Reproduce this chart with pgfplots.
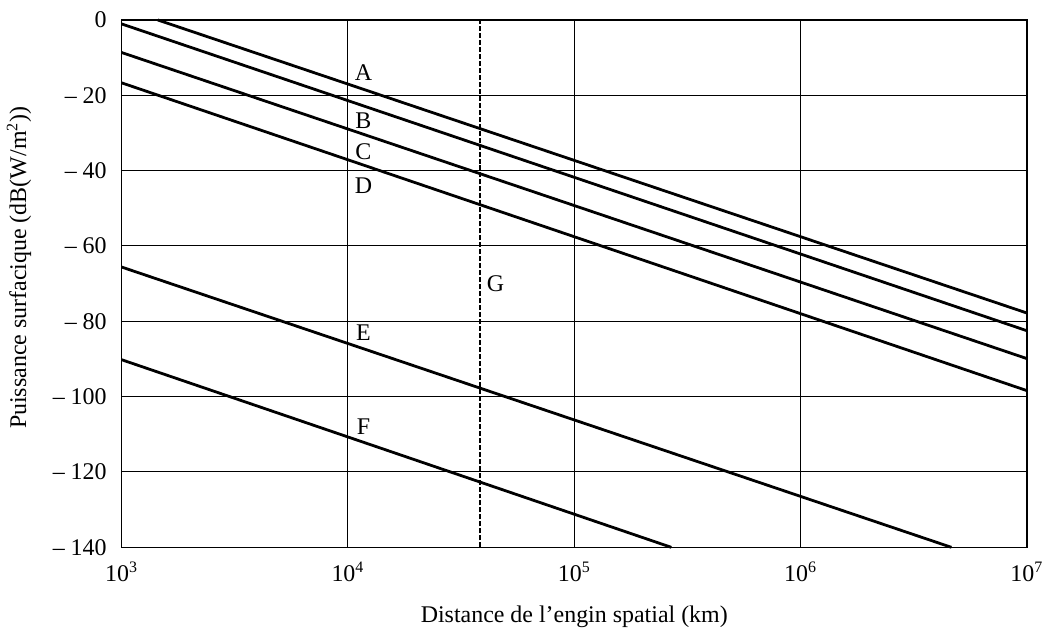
\documentclass[border=0pt]{standalone}
\usepackage{fontspec}
\setmainfont{Liberation Serif}
\usepackage{pgfplots}
\pgfplotsset{compat=1.18}
\begin{document}
\begin{tikzpicture}
\begin{axis}[
  scale only axis,
  width=454pt, height=264.5pt,
  xmode=log,
  xmin=1e3, xmax=1e7,
  ymin=-140, ymax=0,
  xtick={1e3,1e4,1e5,1e6,1e7},
  xticklabels={10\textsuperscript{3},10\textsuperscript{4},10\textsuperscript{5},10\textsuperscript{6},10\textsuperscript{7}},
  ytick={-140,-120,-100,-80,-60,-40,-20,0},
  yticklabels={– 140,– 120,– 100,– 80,– 60,– 40,– 20,0},
  minor tick num=0,
  log ticks with fixed point=false,
  xminorticks=false,
  major tick length=0pt,
  grid=major,
  major grid style={black, line width=0.5pt},
  axis line style={black, line width=0.8pt},
  tick label style={font=\fontsize{12}{14}\selectfont},
  xticklabel style={yshift=-4pt},
  yticklabel style={xshift=-4pt},
  label style={font=\fontsize{12}{14}\selectfont},
  xlabel={Distance de l’engin spatial (km)},
  ylabel={Puissance surfacique (dB(W/m\textsuperscript{2}))},
  xlabel style={yshift=-5pt},
  ylabel style={yshift=4pt, xshift=8pt},
  clip=false,
]
\path (rel axis cs:-0.1344,-0.1493) rectangle (rel axis cs:1.022,1.0378);
\addplot[black, line width=1.4pt] coordinates {(1443,0) (1e7,-77.8)};
\addplot[black, line width=1.4pt] coordinates {(1e3,-1.06) (1e7,-82.5)};
\addplot[black, line width=1.4pt] coordinates {(1e3,-8.65) (1e7,-89.9)};
\addplot[black, line width=1.4pt] coordinates {(1e3,-16.7) (1e7,-98.4)};
\addplot[black, line width=1.4pt] coordinates {(1e3,-65.6) (4.64e6,-140)};
\addplot[black, line width=1.4pt] coordinates {(1e3,-90.2) (2.684e5,-140)};
\addplot[black, line width=1pt, dash pattern=on 2.5pt off 1pt] coordinates {(38450,-140) (38450,0)};
\node[font=\fontsize{12}{14}\selectfont] at (axis cs:1.17e4,-14) {A};
\node[font=\fontsize{12}{14}\selectfont] at (axis cs:1.17e4,-26.7) {B};
\node[font=\fontsize{12}{14}\selectfont] at (axis cs:1.17e4,-34.9) {C};
\node[font=\fontsize{12}{14}\selectfont] at (axis cs:1.17e4,-43.9) {D};
\node[font=\fontsize{12}{14}\selectfont] at (axis cs:1.17e4,-83.1) {E};
\node[font=\fontsize{12}{14}\selectfont] at (axis cs:1.17e4,-108) {F};
\node[font=\fontsize{12}{14}\selectfont] at (axis cs:4.49e4,-70.1) {G};
\end{axis}
\end{tikzpicture}
\end{document}
